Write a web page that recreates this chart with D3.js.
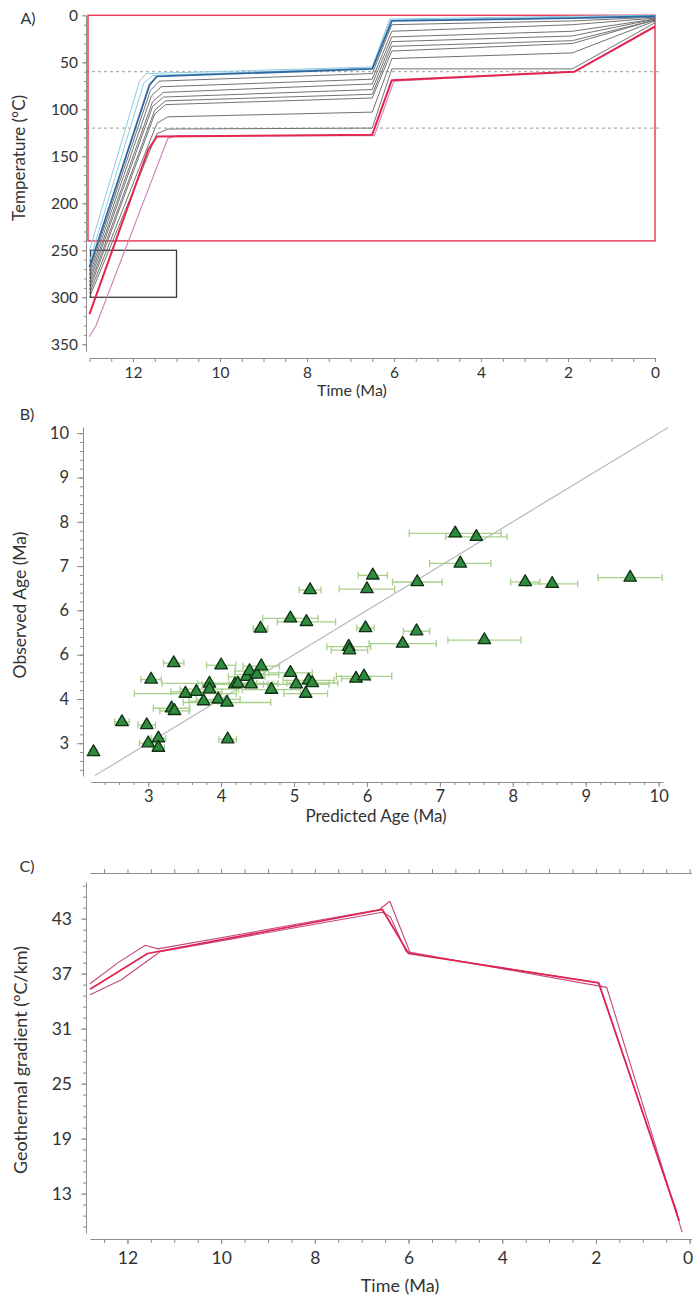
<!DOCTYPE html>
<html>
<head>
<meta charset="utf-8">
<script src="https://cdn.jsdelivr.net/npm/d3@7"></script>
<style>
  html, body { margin: 0; padding: 0; background: #ffffff; }
  svg { display: block; }
</style>
</head>
<body>
<svg id="fig" width="693" height="1302"></svg>
<script>
// ---------------- Panel A: thermal history paths (time Ma, temperature °C) ----------------
const ttPaths = [
  [[13.0,250],[11.85,70],[11.7,62],[6.5,55],[6.1,4],[1.9,1],[0,0]],
  [[13.0,262],[11.75,72],[11.55,64],[6.5,56],[6.08,5],[1.9,2],[0,0]],
  [[13.0,268],[11.62,74],[11.45,65],[6.5,57],[6.05,6],[1.9,3],[0,1]],
  [[13.0,272],[11.6,80],[11.4,70],[6.5,62],[6.05,10],[1.9,6],[0,2]],
  [[13.0,276],[11.58,86],[11.35,76],[6.5,68],[6.05,17],[1.9,10],[0,3]],
  [[13.0,280],[11.55,92],[11.3,82],[6.5,73],[6.05,23],[1.9,17],[0,4]],
  [[13.0,284],[11.55,97],[11.3,87],[6.5,79],[6.05,28],[1.9,22],[0,4]],
  [[13.0,288],[11.5,101],[11.25,91],[6.5,84],[6.05,33],[1.9,27],[0,5]],
  [[13.0,292],[11.5,105],[11.25,95],[6.5,88],[6.05,38],[1.9,30],[0,5]],
  [[13.0,296],[11.45,115],[11.2,108],[6.5,103],[6.05,46],[1.9,40],[0,6]],
  [[13.0,300],[11.45,126],[11.2,121],[6.5,120],[6.05,57],[1.9,57],[0,8]],
  [[13.0,342],[12.85,330],[11.2,131],[11.0,128],[6.45,128],[6.0,70],[1.85,60],[0,11]],
  [[13.0,318],[11.65,143],[11.45,129],[6.5,127],[6.05,69],[1.85,60],[0,12]]
];
const ttPathKind = ["envelope","envelope","best","path","path","path","path","path","path","path","path","outlier","worst"];

const tempTicks = [0,50,100,150,200,250,300,350];
const timeTicksA = [12,10,8,6,4,2,0];
const pazLimits = [60,120];
const startBox = { tOld: 13.0, tYoung: 11.0, tHot: 300, tCold: 250 };
const modelBounds = { tOld: 13.0, tYoung: 0, tHot: 240, tCold: 0 };

// ---------------- Panel B: predicted vs observed ages (Ma) ----------------
const predAge = [2.25,2.64,2.98,3.00,3.14,3.14,3.04,3.32,3.36,3.35,3.51,3.66,3.76,3.84,3.84,3.96,4.08,4.00,4.09,
  4.19,4.23,4.35,4.39,4.41,4.49,4.55,4.54,4.69,4.95,5.17,4.95,5.03,5.16,5.20,5.25,5.22,5.75,5.76,5.85,5.96,
  5.98,6.00,6.08,6.49,6.68,6.69,7.61,7.21,7.50,7.28,8.17,8.54,9.61];
const obsAge = [2.80,3.48,3.41,3.00,3.11,2.90,4.44,3.79,3.73,4.81,4.12,4.16,3.95,4.35,4.22,3.99,3.92,4.76,3.09,
  4.33,4.35,4.50,4.63,4.33,4.55,4.74,5.59,4.21,5.82,5.74,4.59,4.33,4.12,4.42,4.36,6.46,5.18,5.10,4.46,4.51,
  5.60,6.48,6.79,5.25,5.53,6.64,5.33,7.74,7.66,7.06,6.64,6.60,6.74];
const predErr = [0.05,0.10,0.12,0.12,0.10,0.08,0.14,0.25,0.20,0.14,0.70,0.35,0.20,0.65,0.40,0.30,0.60,0.20,0.12,
  0.45,0.55,0.25,0.20,0.30,0.30,0.25,0.10,0.40,0.38,0.40,0.30,0.45,0.30,0.35,0.35,0.15,0.30,0.25,0.20,0.38,
  0.12,0.38,0.20,0.46,0.18,0.34,0.50,0.63,0.42,0.42,0.20,0.35,0.44];
const ageTicks = [3,4,5,6,7,8,9,10];
const obsTickLabels = ["3","4","6","6","7","8","9","10"];

// ---------------- Panel C: geothermal gradient through time (°C/km) ----------------
const gradUpper = [[12.8,35.9],[12.2,38.2],[11.62,40.1],[11.35,39.7],[6.62,44.0],[6.4,44.9],[5.96,39.2],[1.95,36.0],[0.26,10.8]];
const gradLower = [[12.8,34.7],[12.14,36.3],[11.57,38.4],[11.3,39.4],[6.56,43.7],[6.39,43.2],[6.05,39.4],[1.77,35.5],[0.16,8.8]];
const gradMean  = [[12.8,35.3],[11.57,39.2],[6.56,44.0],[6.0,39.2],[1.94,36.0],[0.22,10.0]];
const gradTicks = [13,19,25,31,37,43];
const timeTicksC = [12,10,8,6,4,2,0];

// ---------------- drawing ----------------
const FONT = "Lato, 'Open Sans', sans-serif";
const AX = "#8d8d8d";
const TXT = "#333333";
const svg = d3.select("#fig");

function styleAxis(g, size) {
  g.attr("font-family", FONT).attr("font-size", size);
  g.select(".domain").attr("stroke", AX).attr("stroke-width", 1);
  g.selectAll(".tick line").attr("stroke", AX);
  g.selectAll(".tick text").attr("fill", TXT);
  return g;
}
// small unlabeled ticks, drawn in their own group next to the main axis
function minorAxis(parent, transform, gen) {
  const g = parent.append("g").attr("transform", transform).call(gen);
  g.select(".domain").remove();
  g.selectAll(".tick line").attr("stroke", AX);
  g.selectAll(".tick text").remove();
  return g;
}
function label(x, y, text, size, rotate) {
  const t = svg.append("text")
    .attr("font-family", FONT).attr("font-size", size).attr("fill", TXT)
    .attr("text-anchor", "middle").attr("dominant-baseline", "middle")
    .text(text);
  if (rotate) t.attr("transform", `translate(${x},${y}) rotate(-90)`);
  else t.attr("x", x).attr("y", y);
  return t;
}

// ===== Panel A =====
{
  const x = d3.scaleLinear().domain([13.0, 0]).range([89.5, 655]);
  const y = d3.scaleLinear().domain([0, 358]).range([15.3, 351.8]);
  const g = svg.append("g");

  minorAxis(g, "translate(86,0)", d3.axisLeft(y).tickValues(d3.range(0, 351, 10)).tickSize(2));
  const ya = g.append("g").attr("transform", "translate(86,0)")
    .call(d3.axisLeft(y).tickValues(tempTicks).tickSize(4).tickPadding(4).tickSizeOuter(0));
  styleAxis(ya, 15.5);

  minorAxis(g, "translate(0,358)", d3.axisBottom(x).tickValues(d3.range(0, 13.01, 0.5)).tickSize(4));
  const xa = g.append("g").attr("transform", "translate(0,358)")
    .call(d3.axisBottom(x).tickValues(timeTicksA).tickSize(4).tickPadding(5).tickSizeOuter(0));
  styleAxis(xa, 15.5);

  // partial annealing / retention limits
  pazLimits.forEach(T => {
    g.append("line")
      .attr("x1", 86).attr("x2", 661).attr("y1", y(T)).attr("y2", y(T))
      .attr("stroke", "#9a9a9a").attr("stroke-width", 1).attr("stroke-dasharray", "3,3");
  });

  // model bounds and starting constraint
  g.append("rect")
    .attr("x", x(modelBounds.tOld) - 1.5).attr("y", y(modelBounds.tCold))
    .attr("width", x(modelBounds.tYoung) - x(modelBounds.tOld) + 1.5)
    .attr("height", y(modelBounds.tHot) - y(modelBounds.tCold))
    .attr("fill", "none").attr("stroke", "#ec3f5a").attr("stroke-width", 1.5);
  g.append("rect")
    .attr("x", x(startBox.tOld) + 1).attr("y", y(startBox.tCold))
    .attr("width", x(startBox.tYoung) - x(startBox.tOld) - 1)
    .attr("height", y(startBox.tHot) - y(startBox.tCold))
    .attr("fill", "none").attr("stroke", "#3a3a3a").attr("stroke-width", 1.3);

  const line = d3.line().x(d => x(d[0])).y(d => y(d[1]));
  const style = {
    path:     { stroke: "#6a6a6a", w: 1.0, o: 0.95 },
    envelope: { stroke: "#8fcbe0", w: 1.0, o: 1 },
    best:     { stroke: "#2f68a4", w: 1.8, o: 1 },
    outlier:  { stroke: "#cf7fb8", w: 1.1, o: 1 },
    worst:    { stroke: "#e32650", w: 2.0, o: 1 }
  };
  const order = ["path", "envelope", "outlier", "best", "worst"];
  order.forEach(kind => {
    ttPaths.forEach((p, i) => {
      if (ttPathKind[i] !== kind) return;
      const s = style[kind];
      g.append("path").attr("d", line(p)).attr("fill", "none")
        .attr("stroke", s.stroke).attr("stroke-width", s.w).attr("stroke-opacity", s.o)
        .attr("stroke-linejoin", "round");
    });
  });

  label(28, 20, "A)", 16);
  label(21, 158, "Temperature (°C)", 17, true);
  label(352, 392, "Time (Ma)", 16);
}

// ===== Panel B =====
{
  const x = d3.scaleLinear().domain([2.21, 10.06]).range([90.6, 663]);
  const y = d3.scaleLinear().domain([2.26, 10.14]).range([776, 427]);
  const g = svg.append("g");

  minorAxis(g, "translate(83,0)", d3.axisLeft(y).tickValues(d3.range(2.4, 10.01, 0.2)).tickSize(3));
  const ya = g.append("g").attr("transform", "translate(83,0)")
    .call(d3.axisLeft(y).tickValues(ageTicks).tickSize(6).tickPadding(8).tickSizeOuter(0)
      .tickFormat((d, i) => obsTickLabels[i]));
  styleAxis(ya, 16.5);

  minorAxis(g, "translate(0,782)", d3.axisBottom(x).tickValues(d3.range(2.4, 10.01, 0.2)).tickSize(3));
  const xa = g.append("g").attr("transform", "translate(0,782)")
    .call(d3.axisBottom(x).tickValues(ageTicks).tickSize(5).tickPadding(3).tickSizeOuter(0));
  styleAxis(xa, 16.5);

  // 1:1 line
  g.append("line")
    .attr("x1", x(2.27)).attr("y1", y(2.27)).attr("x2", x(10.13)).attr("y2", y(10.13))
    .attr("stroke", "#bdbdbd").attr("stroke-width", 1.3);

  const pts = predAge.map((p, i) => ({ p, o: obsAge[i], e: predErr[i] }));
  const eb = g.append("g").attr("stroke", "#a7d08b").attr("stroke-width", 1.3).attr("fill", "none");
  pts.forEach(d => {
    const yy = y(d.o), x0 = x(d.p - d.e), x1 = x(d.p + d.e);
    eb.append("line").attr("x1", x0).attr("x2", x1).attr("y1", yy).attr("y2", yy);
    eb.append("line").attr("x1", x0).attr("x2", x0).attr("y1", yy - 3.5).attr("y2", yy + 3.5);
    eb.append("line").attr("x1", x1).attr("x2", x1).attr("y1", yy - 3.5).attr("y2", yy + 3.5);
  });
  const tri = d3.symbol(d3.symbolTriangle).size(68);
  g.append("g").selectAll("path").data(pts).join("path")
    .attr("d", tri)
    .attr("transform", d => `translate(${x(d.p)},${y(d.o)})`)
    .attr("fill", "#2e8b3d").attr("stroke", "#0f2e12").attr("stroke-width", 1.3)
    .attr("stroke-linejoin", "round");

  label(27, 416, "B)", 16);
  label(22, 605, "Observed Age (Ma)", 17.5, true);
  label(376, 818, "Predicted Age (Ma)", 17);
}

// ===== Panel C =====
{
  const x = d3.scaleLinear().domain([12.8, -0.04]).range([90, 691.5]);
  const y = d3.scaleLinear().domain([8.7, 47]).range([1233, 882]);
  const g = svg.append("g");

  minorAxis(g, "translate(86,0)", d3.axisLeft(y).tickValues(d3.range(9.4, 46.9, 1.2)).tickSize(3));
  const ya = g.append("g").attr("transform", "translate(86,0)")
    .call(d3.axisLeft(y).tickValues(gradTicks).tickSize(5).tickPadding(9).tickSizeOuter(0));
  styleAxis(ya, 17.5);

  minorAxis(g, "translate(0,1239)", d3.axisBottom(x).tickValues(d3.range(0, 12.51, 0.5)).tickSize(4));
  const xa = g.append("g").attr("transform", "translate(0,1239)")
    .call(d3.axisBottom(x).tickValues(timeTicksC).tickSize(5).tickPadding(8).tickSizeOuter(0));
  styleAxis(xa, 17.5);
  // keep the right-most label inside the page
  xa.selectAll(".tick text").filter(d => d === 0).attr("text-anchor", "end").attr("dx", 3);

  minorAxis(g, "translate(0,873)", d3.axisTop(x).tickValues(d3.range(0, 12.51, 0.5)).tickSize(4));
  const xt = g.append("g").attr("transform", "translate(0,873)")
    .call(d3.axisTop(x).tickValues([]).tickSizeOuter(0));
  styleAxis(xt, 12);

  const line = d3.line().x(d => x(d[0])).y(d => y(d[1]));
  [gradUpper, gradLower].forEach(s => {
    g.append("path").attr("d", line(s)).attr("fill", "none")
      .attr("stroke", "#c2477f").attr("stroke-width", 1.1).attr("stroke-linejoin", "round");
  });
  g.append("path").attr("d", line(gradMean)).attr("fill", "none")
    .attr("stroke", "#e0234e").attr("stroke-width", 1.7).attr("stroke-linejoin", "round");

  label(27, 868, "C)", 16);
  label(22, 1060, "Geothermal gradient (°C/km)", 18, true);
  label(400, 1287, "Time (Ma)", 18);
}
</script>
</body>
</html>
